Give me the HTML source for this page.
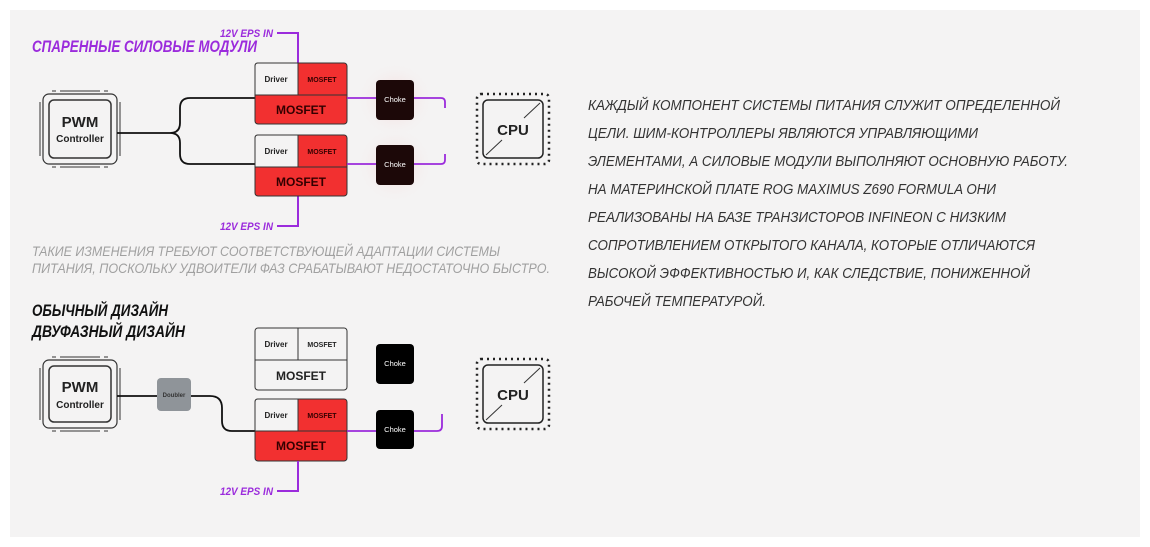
<!DOCTYPE html>
<html><head><meta charset="utf-8"><style>
html,body{margin:0;padding:0;background:#fff;width:1150px;height:547px;overflow:hidden}
svg{display:block}
text{font-family:"Liberation Sans Narrow","Liberation Sans",sans-serif}
.b{font-family:"Liberation Sans",sans-serif}
</style></head><body>
<svg width="1150" height="547" viewBox="0 0 1150 547">
<defs>
<radialGradient id="g" cx="50%" cy="50%" r="50%"><stop offset="0" stop-color="#f2c9c9" stop-opacity=".8"/><stop offset="1" stop-color="#f4f3f3" stop-opacity="0"/></radialGradient>
</defs>
<rect x="10" y="10" width="1130" height="527" fill="#f4f3f3"/>

<text x="32" y="52" font-size="17" font-weight="bold" font-style="italic" fill="#9b2bdc" textLength="225" lengthAdjust="spacingAndGlyphs">СПАРЕННЫЕ СИЛОВЫЕ МОДУЛИ</text>
<text x="220" y="37" font-size="11" font-weight="bold" font-style="italic" fill="#9b2bdc" textLength="53" lengthAdjust="spacingAndGlyphs">12V EPS IN</text>
<polyline points="277,33 298,33 298,63" fill="none" stroke="#9b2bdc" stroke-width="2"/>
<text x="220" y="230" font-size="11" font-weight="bold" font-style="italic" fill="#9b2bdc" textLength="53" lengthAdjust="spacingAndGlyphs">12V EPS IN</text>
<polyline points="298,196 298,226 277,226" fill="none" stroke="#9b2bdc" stroke-width="2"/>

<circle cx="395" cy="100" r="38" fill="url(#g)"/>
<circle cx="395" cy="165" r="38" fill="url(#g)"/>

<rect x="43" y="94" width="74" height="70" rx="6" fill="#f4f3f3" stroke="#333" stroke-width="1.2"/>
<rect x="49" y="100" width="62" height="58" rx="5" fill="#f4f3f3" stroke="#333" stroke-width="1.5"/>
<g stroke="#333" stroke-width="1"><line x1="52" y1="91" x2="108" y2="91" stroke-dasharray="4,4,40,4,4"/><line x1="52" y1="167" x2="108" y2="167" stroke-dasharray="4,4,40,4,4"/><line x1="40" y1="102" x2="40" y2="156" stroke-dasharray="54"/><line x1="120" y1="102" x2="120" y2="156" stroke-dasharray="54"/></g>
<text class="b" x="80" y="127" font-size="15" font-weight="bold" text-anchor="middle" fill="#222">PWM</text>
<text class="b" x="80" y="142" font-size="10" font-weight="bold" text-anchor="middle" fill="#222">Controller</text>

<path d="M117,133 H170 Q180,133 180,123 V108 Q180,98 190,98 H255 M170,133 Q180,133 180,143 V154 Q180,164 190,164 H255" fill="none" stroke="#111" stroke-width="1.8"/>

<g>
<rect x="255" y="63" width="92" height="61" rx="3" fill="#f23030" stroke="#333" stroke-width="1"/>
<path d="M258,63 H298 V95 H255 V66 Q255,63 258,63Z" fill="#f4f3f3" stroke="#333" stroke-width="1"/>
<line x1="255" y1="95" x2="347" y2="95" stroke="#333"/>
<text class="b" x="276" y="82" font-size="8" font-weight="bold" text-anchor="middle" fill="#222">Driver</text>
<text class="b" x="322" y="82" font-size="7" font-weight="bold" text-anchor="middle" fill="#300">MOSFET</text>
<text class="b" x="301" y="114" font-size="12" font-weight="bold" text-anchor="middle" fill="#300">MOSFET</text>
</g>
<g transform="translate(0,72)">
<rect x="255" y="63" width="92" height="61" rx="3" fill="#f23030" stroke="#333" stroke-width="1"/>
<path d="M258,63 H298 V95 H255 V66 Q255,63 258,63Z" fill="#f4f3f3" stroke="#333" stroke-width="1"/>
<line x1="255" y1="95" x2="347" y2="95" stroke="#333"/>
<text class="b" x="276" y="82" font-size="8" font-weight="bold" text-anchor="middle" fill="#222">Driver</text>
<text class="b" x="322" y="82" font-size="7" font-weight="bold" text-anchor="middle" fill="#300">MOSFET</text>
<text class="b" x="301" y="114" font-size="12" font-weight="bold" text-anchor="middle" fill="#300">MOSFET</text>
</g>

<path d="M347,98 H376 M414,98 H441 Q445,98 445,102 V108" fill="none" stroke="#9b2bdc" stroke-width="1.8"/>
<path d="M347,164 H376 M414,164 H441 Q445,164 445,160 V154" fill="none" stroke="#9b2bdc" stroke-width="1.8"/>
<rect x="376" y="80" width="38" height="40" rx="4" fill="#1c0808"/>
<text class="b" x="395" y="102" font-size="7.5" text-anchor="middle" fill="#fff">Choke</text>
<rect x="376" y="145" width="38" height="40" rx="4" fill="#1c0808"/>
<text class="b" x="395" y="167" font-size="7.5" text-anchor="middle" fill="#fff">Choke</text>

<rect x="477" y="94" width="72" height="70" rx="4" fill="none" stroke="#222" stroke-width="2.5" stroke-dasharray="2,4"/>
<rect x="483" y="100" width="60" height="58" rx="5" fill="#f4f3f3" stroke="#222" stroke-width="1.5"/>
<line x1="486" y1="155" x2="502" y2="140" stroke="#333"/><line x1="524" y1="118" x2="540" y2="103" stroke="#333"/>
<text class="b" x="513" y="135" font-size="15" font-weight="bold" text-anchor="middle" fill="#222">CPU</text>

<text x="32" y="256" font-size="14" font-style="italic" fill="#a0a0a0" textLength="468" lengthAdjust="spacingAndGlyphs">ТАКИЕ ИЗМЕНЕНИЯ ТРЕБУЮТ СООТВЕТСТВУЮЩЕЙ АДАПТАЦИИ СИСТЕМЫ</text>
<text x="32" y="273" font-size="14" font-style="italic" fill="#a0a0a0" textLength="518" lengthAdjust="spacingAndGlyphs">ПИТАНИЯ, ПОСКОЛЬКУ УДВОИТЕЛИ ФАЗ СРАБАТЫВАЮТ НЕДОСТАТОЧНО БЫСТРО.</text>

<text x="32" y="316" font-size="17" font-weight="bold" font-style="italic" fill="#111" textLength="136" lengthAdjust="spacingAndGlyphs">ОБЫЧНЫЙ ДИЗАЙН</text>
<text x="32" y="337" font-size="17" font-weight="bold" font-style="italic" fill="#111" textLength="153" lengthAdjust="spacingAndGlyphs">ДВУФАЗНЫЙ ДИЗАЙН</text>

<rect x="43" y="360" width="74" height="68" rx="6" fill="#f4f3f3" stroke="#333" stroke-width="1.2"/>
<rect x="49" y="366" width="62" height="56" rx="5" fill="#f4f3f3" stroke="#333" stroke-width="1.5"/>
<g stroke="#333" stroke-width="1"><line x1="52" y1="357" x2="108" y2="357" stroke-dasharray="4,4,40,4,4"/><line x1="52" y1="431" x2="108" y2="431" stroke-dasharray="4,4,40,4,4"/><line x1="40" y1="368" x2="40" y2="420" stroke-dasharray="52"/><line x1="120" y1="368" x2="120" y2="420" stroke-dasharray="52"/></g>
<text class="b" x="80" y="392" font-size="15" font-weight="bold" text-anchor="middle" fill="#222">PWM</text>
<text class="b" x="80" y="408" font-size="10" font-weight="bold" text-anchor="middle" fill="#222">Controller</text>

<path d="M117,396 H157 M191,396 H210 Q222,396 222,408 V421 Q222,431 232,431 H255" fill="none" stroke="#111" stroke-width="1.8"/>
<rect x="157" y="378" width="34" height="33" rx="4" fill="#8f9499"/>
<text class="b" x="174" y="397" font-size="6" font-weight="bold" text-anchor="middle" fill="#333">Doubler</text>

<rect x="255" y="328" width="92" height="62" rx="3" fill="#f4f3f3" stroke="#333" stroke-width="1"/>
<line x1="255" y1="360" x2="347" y2="360" stroke="#333"/><line x1="298" y1="328" x2="298" y2="360" stroke="#333"/>
<text class="b" x="276" y="347" font-size="8" font-weight="bold" text-anchor="middle" fill="#222">Driver</text>
<text class="b" x="322" y="347" font-size="7" font-weight="bold" text-anchor="middle" fill="#222">MOSFET</text>
<text class="b" x="301" y="380" font-size="12" font-weight="bold" text-anchor="middle" fill="#222">MOSFET</text>

<g transform="translate(0,336)">
<rect x="255" y="63" width="92" height="62" rx="3" fill="#f23030" stroke="#333" stroke-width="1"/>
<path d="M258,63 H298 V95 H255 V66 Q255,63 258,63Z" fill="#f4f3f3" stroke="#333" stroke-width="1"/>
<line x1="255" y1="95" x2="347" y2="95" stroke="#333"/>
<text class="b" x="276" y="82" font-size="8" font-weight="bold" text-anchor="middle" fill="#222">Driver</text>
<text class="b" x="322" y="82" font-size="7" font-weight="bold" text-anchor="middle" fill="#300">MOSFET</text>
<text class="b" x="301" y="114" font-size="12" font-weight="bold" text-anchor="middle" fill="#300">MOSFET</text>
</g>

<path d="M347,431 H376 M414,431 H437 Q442,431 442,426 V414" fill="none" stroke="#9b2bdc" stroke-width="1.8"/>
<rect x="376" y="344" width="38" height="40" rx="4" fill="#000"/>
<text class="b" x="395" y="366" font-size="7.5" text-anchor="middle" fill="#fff">Choke</text>
<rect x="376" y="410" width="38" height="39" rx="4" fill="#000"/>
<text class="b" x="395" y="432" font-size="7.5" text-anchor="middle" fill="#fff">Choke</text>

<text x="220" y="495" font-size="11" font-weight="bold" font-style="italic" fill="#9b2bdc" textLength="53" lengthAdjust="spacingAndGlyphs">12V EPS IN</text>
<polyline points="298,461 298,491 277,491" fill="none" stroke="#9b2bdc" stroke-width="2"/>

<rect x="477" y="359" width="72" height="70" rx="4" fill="none" stroke="#222" stroke-width="2.5" stroke-dasharray="2,4"/>
<rect x="483" y="365" width="60" height="58" rx="5" fill="#f4f3f3" stroke="#222" stroke-width="1.5"/>
<line x1="486" y1="420" x2="502" y2="405" stroke="#333"/><line x1="524" y1="383" x2="540" y2="368" stroke="#333"/>
<text class="b" x="513" y="400" font-size="15" font-weight="bold" text-anchor="middle" fill="#222">CPU</text>

<g font-size="15" font-style="italic" fill="#333">
<text x="588" y="110" textLength="472" lengthAdjust="spacingAndGlyphs">КАЖДЫЙ КОМПОНЕНТ СИСТЕМЫ ПИТАНИЯ СЛУЖИТ ОПРЕДЕЛЕННОЙ</text>
<text x="588" y="138" textLength="390" lengthAdjust="spacingAndGlyphs">ЦЕЛИ. ШИМ-КОНТРОЛЛЕРЫ ЯВЛЯЮТСЯ УПРАВЛЯЮЩИМИ</text>
<text x="588" y="166" textLength="480" lengthAdjust="spacingAndGlyphs">ЭЛЕМЕНТАМИ, А СИЛОВЫЕ МОДУЛИ ВЫПОЛНЯЮТ ОСНОВНУЮ РАБОТУ.</text>
<text x="588" y="194" textLength="408" lengthAdjust="spacingAndGlyphs">НА МАТЕРИНСКОЙ ПЛАТЕ ROG MAXIMUS Z690 FORMULA ОНИ</text>
<text x="588" y="222" textLength="418" lengthAdjust="spacingAndGlyphs">РЕАЛИЗОВАНЫ НА БАЗЕ ТРАНЗИСТОРОВ INFINEON С НИЗКИМ</text>
<text x="588" y="250" textLength="447" lengthAdjust="spacingAndGlyphs">СОПРОТИВЛЕНИЕМ ОТКРЫТОГО КАНАЛА, КОТОРЫЕ ОТЛИЧАЮТСЯ</text>
<text x="588" y="278" textLength="442" lengthAdjust="spacingAndGlyphs">ВЫСОКОЙ ЭФФЕКТИВНОСТЬЮ И, КАК СЛЕДСТВИЕ, ПОНИЖЕННОЙ</text>
<text x="588" y="306" textLength="178" lengthAdjust="spacingAndGlyphs">РАБОЧЕЙ ТЕМПЕРАТУРОЙ.</text>
</g>
</svg>
</body></html>
